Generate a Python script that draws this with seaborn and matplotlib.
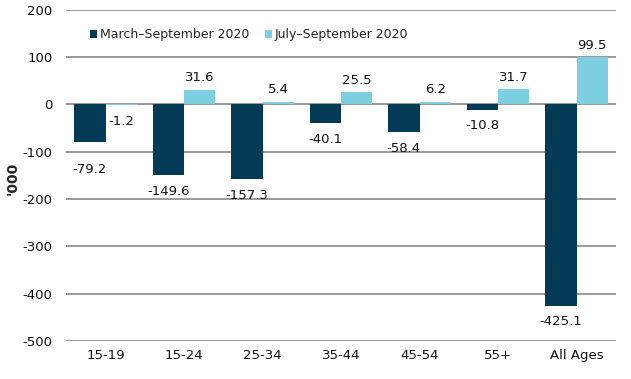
import matplotlib
matplotlib.use("Agg")
import matplotlib.pyplot as plt
import pandas as pd
import seaborn as sns

age_groups = ["15-19", "15-24", "25-34", "35-44", "45-54", "55+", "All Ages"]
series_names = ["March\u2013September 2020", "July\u2013September 2020"]
march_sep = [-79.2, -149.6, -157.3, -40.1, -58.4, -10.8, -425.1]
july_sep = [-1.2, 31.6, 5.4, 25.5, 6.2, 31.7, 99.5]
y_ticks = [200, 100, 0, -100, -200, -300, -400, -500]

dark = "#033A56"
light = "#7DD0E1"

df = pd.DataFrame({
    "age": age_groups * 2,
    "series": [series_names[0]] * len(age_groups) + [series_names[1]] * len(age_groups),
    "value": march_sep + july_sep,
})

sns.set_style("white")
plt.rcParams["font.family"] = ["DejaVu Sans"]
plt.rcParams["axes.unicode_minus"] = False

fig = plt.figure(figsize=(6.31, 3.79), dpi=100)
ax = fig.add_axes([0.105, 0.100, 0.871, 0.874])

sns.barplot(
    data=df, x="age", y="value", hue="series",
    palette=[dark, light], width=0.8, saturation=1, linewidth=0,
    order=age_groups, hue_order=series_names, ax=ax,
)

ax.set_ylim(-500, 200)
ax.set_yticks(y_ticks)
ax.yaxis.grid(True, color="#888888", linewidth=1.2)
ax.set_axisbelow(True)
for s in ax.spines.values():
    s.set_visible(False)
ax.tick_params(axis="both", length=0, labelsize=9.5, colors="#111111")
ax.tick_params(axis="y", pad=10)
ax.tick_params(axis="x", pad=6)
ax.set_xlabel("")
ax.set_ylabel("'000", fontsize=10, fontweight="bold")
ax.yaxis.set_label_coords(-0.085, 0.49)

# value labels
for container in ax.containers:
    for bar in container:
        h = bar.get_height()
        x = bar.get_x() + bar.get_width() / 2
        if h >= 0:
            off = 4
            va = "bottom"
        else:
            off = -15 if abs(h + 79.2) < 0.01 else -7
            va = "top"
        ax.annotate(f"{h:.1f}", (x, h), xytext=(0, off), textcoords="offset points",
                    ha="center", va=va, fontsize=9.5, color="#111111")

ax.legend(
    loc="center left", bbox_to_anchor=(0.035, 0.925), ncol=2, frameon=False,
    fontsize=9, handlelength=0.55, handleheight=0.55, handletextpad=0.25,
    columnspacing=1.2, borderaxespad=0.0,
)

fig.savefig("out.png", dpi=100)
